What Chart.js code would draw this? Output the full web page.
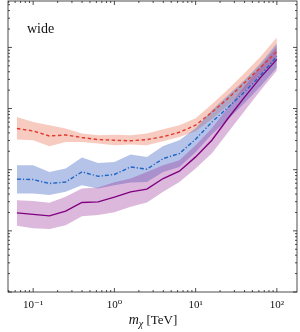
<!DOCTYPE html>
<html>
<head>
<meta charset="utf-8">
<script src="https://cdn.jsdelivr.net/npm/chart.js@4.4.1/dist/chart.umd.min.js"></script>
<style>
  html, body { margin: 0; padding: 0; background: #fff; }
  #wrap { width: 300px; height: 332px; }
</style>
</head>
<body>
<div id="wrap"><canvas id="chart"></canvas></div>
<script>
// dark matter mass grid, TeV
var mass = [0.0631, 0.1, 0.1585, 0.2512, 0.3981, 0.631, 1, 1.585, 2.512, 3.981, 6.31, 10, 15.85, 25.12, 39.81, 63.1, 100];

// red dashed curve + band
var redCentral = [471, 430, 356, 370, 336, 311, 303, 297, 311, 346, 409, 533, 869, 1469, 2632, 4713, 8604];
var redUpper = [728, 603, 533, 471, 390, 366, 373, 366, 390, 458, 533, 693, 1173, 2061, 3763, 7129, 14560];
var redLower = [311, 303, 242, 284, 284, 268, 251, 258, 251, 292, 343, 425, 667, 1130, 1986, 3624, 6607];

// blue dash-dot curve + band
var blueCentral = [70, 69, 59.5, 63, 92, 78, 83.5, 111, 102, 152, 184, 315, 603, 1048, 1863, 3490, 7129];
var blueUpper = [118, 118, 92, 105, 158, 129, 134, 177, 162, 245, 303, 476, 936, 1644, 2891, 5483, 11620];
var blueLower = [41, 41, 38.4, 43.4, 55.8, 49.3, 55.8, 61.8, 63.2, 92, 111, 193, 380, 667, 1219, 2307, 4713];

// purple solid curve + band
var purpleCentral = [19.7, 18.6, 17.6, 21, 29.1, 29.8, 35.6, 43.4, 48.1, 71.8, 94.6, 162, 303, 693, 1527, 3236, 6368];
var purpleUpper = [31.8, 30.9, 28.7, 36, 49.3, 51.2, 62.5, 71.8, 92.1, 118, 143, 251, 476, 1048, 2307, 4898, 10380];
var purpleLower = [12.1, 11, 10.7, 12.4, 17.4, 18.1, 20.2, 24.7, 29.1, 43.4, 63.2, 105, 186, 409, 902, 1986, 4209];

var xTickValues = [0.1, 1, 10, 100];
var xTickLabels = ['10\u207B\u00B9', '10\u2070', '10\u00B9', '10\u00B2'];
var panelLabel = 'wide';

var SERIF = '"Liberation Serif", "DejaVu Serif", serif';

function pts(arr) {
    return mass.map(function(m, i) { return {x: m, y: arr[i]}; });
}

function line(data, color, dash) {
    return {
        data: pts(data),
        borderColor: color,
        borderWidth: 1.4,
        borderDash: dash,
        fill: false
    };
}

function bandTop(data, color) {
    return { data: pts(data), borderWidth: 0, backgroundColor: color, fill: '+1' };
}

function bandBottom(data) {
    return { data: pts(data), borderWidth: 0, fill: false };
}

function logTicks(min, max) {
    var out = [];
    for (var e = Math.floor(Math.log10(min)); e <= Math.ceil(Math.log10(max)); e++) {
        for (var m = 1; m < 10; m++) {
            var v = m * Math.pow(10, e);
            if (v >= min && v <= max) out.push({v: v, major: m === 1});
        }
    }
    return out;
}

var frameTicks = {
    id: 'frameTicks',
    afterDraw: function(chart) {
        var ctx = chart.ctx, a = chart.chartArea;
        var xs = chart.scales.x, ys = chart.scales.y;
        ctx.save();
        ctx.strokeStyle = '#222';
        ctx.lineWidth = 0.8;
        ctx.strokeRect(a.left, a.top, a.right - a.left, a.bottom - a.top);
        ctx.beginPath();
        logTicks(xs.min, xs.max).forEach(function(t) {
            var px = xs.getPixelForValue(t.v);
            var len = t.major ? 4 : 2;
            ctx.moveTo(px, a.bottom); ctx.lineTo(px, a.bottom - len);
            ctx.moveTo(px, a.top); ctx.lineTo(px, a.top + len);
        });
        logTicks(ys.min, ys.max).forEach(function(t) {
            var py = ys.getPixelForValue(t.v);
            var len = t.major ? 4 : 2;
            ctx.moveTo(a.left, py); ctx.lineTo(a.left + len, py);
            ctx.moveTo(a.right, py); ctx.lineTo(a.right - len, py);
        });
        ctx.stroke();

        // panel label
        ctx.fillStyle = '#111';
        ctx.textBaseline = 'alphabetic';
        ctx.textAlign = 'left';
        ctx.font = '14px ' + SERIF;
        ctx.fillText(panelLabel, a.left + 19, 32.5);

        // axis title m_chi [TeV]
        var f1 = 'italic 14px ' + SERIF, f2 = 'italic 10px ' + SERIF, f3 = '13px ' + SERIF;
        ctx.font = f1; var w1 = ctx.measureText('m').width;
        ctx.font = f2; var w2 = ctx.measureText('\u03C7').width;
        ctx.font = f3; var w3 = ctx.measureText(' [TeV]').width;
        var x0 = 153 - (w1 + w2 + w3) / 2, base = 324;
        ctx.font = f1; ctx.fillText('m', x0, base);
        ctx.font = f2; ctx.fillText('\u03C7', x0 + w1, base + 2.5);
        ctx.font = f3; ctx.fillText(' [TeV]', x0 + w1 + w2, base);
        ctx.restore();
    }
};

new Chart(document.getElementById('chart'), {
    type: 'line',
    data: {
        datasets: [
            line(redCentral, '#df3a30', [3.5, 2.5]),
            line(blueCentral, '#1f64c0', [4, 2, 1.2, 2]),
            line(purpleCentral, '#800080', []),
            bandTop(purpleUpper, 'rgba(150, 40, 150, 0.33)'),
            bandBottom(purpleLower),
            bandTop(blueUpper, 'rgba(70, 105, 200, 0.4)'),
            bandBottom(blueLower),
            bandTop(redUpper, 'rgba(235, 105, 75, 0.35)'),
            bandBottom(redLower)
        ]
    },
    options: {
        responsive: true,
        maintainAspectRatio: false,
        animation: false,
        layout: { padding: { left: 8, right: 3, top: 1, bottom: 0 } },
        elements: { point: { radius: 0 }, line: { tension: 0 } },
        plugins: {
            legend: { display: false },
            tooltip: { enabled: false },
            filler: { drawTime: 'beforeDatasetsDraw' }
        },
        scales: {
            x: {
                type: 'logarithmic',
                min: 0.049,
                max: 177,
                grid: { display: false, drawTicks: false },
                border: { display: false },
                afterBuildTicks: function(s) {
                    s.ticks = xTickValues.map(function(v) { return {value: v}; });
                },
                ticks: {
                    autoSkip: false,
                    maxRotation: 0,
                    padding: 7,
                    color: '#111',
                    font: { family: SERIF, size: 11 },
                    callback: function(v, i) { return xTickLabels[i]; }
                },
                afterFit: function(s) { s.height = 40; }
            },
            y: {
                type: 'logarithmic',
                display: false,
                min: 1,
                max: 57400
            }
        }
    },
    plugins: [frameTicks]
});
</script>
</body>
</html>
